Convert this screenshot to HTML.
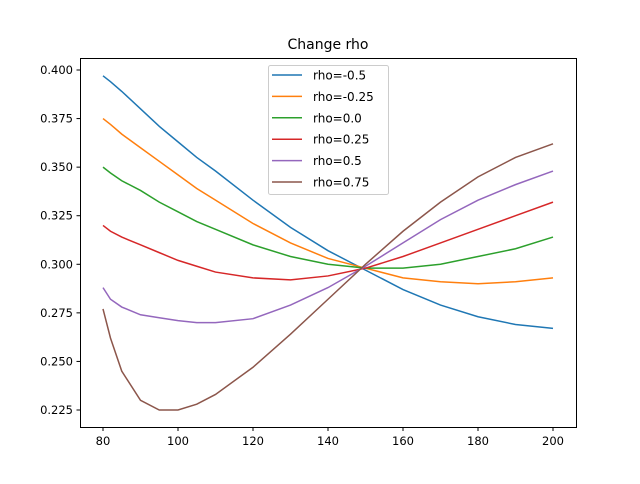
<!DOCTYPE html>
<html><head><meta charset="utf-8"><style>
body{margin:0;background:#fff;font-family:"DejaVu Sans","Liberation Sans",sans-serif}
</style></head><body>
<svg id="c" width="640" height="480" xmlns="http://www.w3.org/2000/svg"></svg>
<script>
const xs=[80,82,85,90,95,100,105,110,120,130,140,150,160,170,180,190,200];
const labels=["rho=-0.5","rho=-0.25","rho=0.0","rho=0.25","rho=0.5","rho=0.75"];
const sBlue=[0.397,0.394,0.389,0.380,0.371,0.363,0.355,0.348,0.333,0.319,0.307,0.297,0.287,0.279,0.273,0.269,0.267];
const sOrange=[0.375,0.372,0.367,0.360,0.353,0.346,0.339,0.333,0.321,0.311,0.303,0.298,0.293,0.291,0.290,0.291,0.293];
const sGreen=[0.350,0.347,0.343,0.338,0.332,0.327,0.322,0.318,0.310,0.304,0.300,0.298,0.298,0.300,0.304,0.308,0.314];
const sRed=[0.320,0.317,0.314,0.310,0.306,0.302,0.299,0.296,0.293,0.292,0.294,0.298,0.304,0.311,0.318,0.325,0.332];
const sPurple=[0.288,0.282,0.278,0.274,0.2725,0.271,0.270,0.270,0.272,0.279,0.288,0.299,0.311,0.323,0.333,0.341,0.348];
const sBrown=[0.277,0.262,0.245,0.230,0.225,0.225,0.228,0.233,0.247,0.264,0.282,0.300,0.317,0.332,0.345,0.355,0.362];
const xTicks=[80,100,120,140,160,180,200];
const yTicks=[0.225,0.250,0.275,0.300,0.325,0.350,0.375,0.400];
const series=[sBlue,sOrange,sGreen,sRed,sPurple,sBrown];
const colors=["#1f77b4","#ff7f0e","#2ca02c","#d62728","#9467bd","#8c564b"];
const L=80,R=576,T=58,B=427;
const X=v=>103+(v-80)*3.75;
const Y=v=>70+(0.400-v)*(340/0.175);
const svg=document.getElementById('c');const NS="http://www.w3.org/2000/svg";
function mk(t,a,p){const e=document.createElementNS(NS,t);for(const k in a)e.setAttribute(k,a[k]);(p||svg).appendChild(e);return e;}
let title=mk('text',{x:328,y:49,'text-anchor':'middle','font-size':14});title.textContent="Change rho";


series.forEach((s,i)=>{
 const p=mk('polyline',{points:s.map((v,j)=>X(xs[j])+','+Y(v)).join(' '),fill:'none',stroke:colors[i],'stroke-width':1.5});
 
 
});
const ax=mk('rect',{x:L+.5,y:T+.5,width:R-L,height:B-T,fill:'none',stroke:'#000','stroke-width':1});


xTicks.forEach(v=>{const x=X(v);mk('line',{x1:x,x2:x,y1:B+.5,y2:B+4,stroke:'#000'});
 const t=mk('text',{x:x,y:B+18,'text-anchor':'middle','font-size':11.5});t.textContent=v;
 
 });
yTicks.forEach(v=>{const y=Y(v);mk('line',{x1:L-3.5,x2:L+.5,y1:y,y2:y,stroke:'#000'});
 const t=mk('text',{x:L-7,y:y+4,'text-anchor':'end','font-size':11.5});t.textContent=v.toFixed(3);
 
 });
const lg=mk('g',{});


mk('rect',{x:268.5,y:65.5,width:120,height:129,rx:2,fill:'#fff','fill-opacity':0.8,stroke:'#ccc'},lg);
labels.forEach((l,i)=>{const y=75+i*21.4;
 const e=mk('g',{},lg);
 
 
 mk('line',{x1:272,x2:302,y1:y,y2:y,stroke:colors[i],'stroke-width':1.5},e);
 const t=mk('text',{x:313,y:y+4.5,'font-size':12},e);t.textContent=l;});
</script>
</body></html>
